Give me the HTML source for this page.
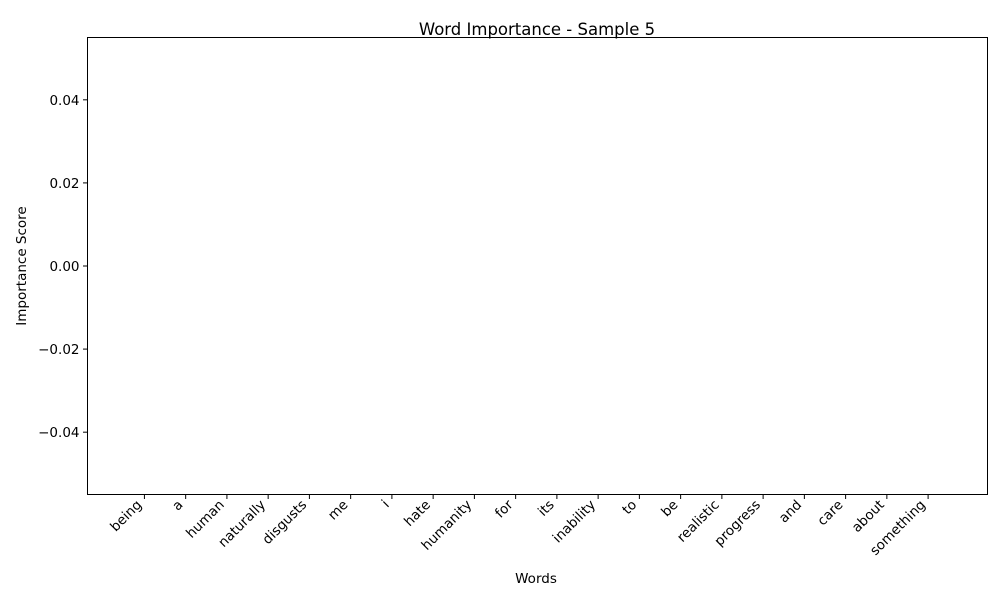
<!DOCTYPE html>
<html><head><meta charset="utf-8">
<style>
html,body{margin:0;padding:0;background:#fff;}
svg{display:block;font-family:"DejaVu Sans","Liberation Sans",sans-serif;}
</style></head>
<body>
<svg id="chart" width="1000" height="600" xmlns="http://www.w3.org/2000/svg">
<rect x="0" y="0" width="1000" height="600" fill="#fff"/>
<text x="537" y="35" text-anchor="middle" font-size="16.5">Word Importance - Sample 5</text>
<text x="536" y="583" text-anchor="middle" font-size="13.5">Words</text>
<text transform="translate(26,266) rotate(-90)" text-anchor="middle" font-size="13.5">Importance Score</text>
<g id="bars"></g>
<g id="xticks"></g>
<g id="yticks"></g>
<rect x="87.5" y="37.5" width="900" height="457" fill="none" stroke="#000" stroke-width="1"/>
</svg>
<script>
const words = ["being","a","human","naturally","disgusts","me","i","hate","humanity","for","its","inability","to","be","realistic","progress","and","care","about","something"];
const values = [0,0,0,0,0,0,0,0,0,0,0,0,0,0,0,0,0,0,0,0];
const yTickValues = [-0.04,-0.02,0.00,0.02,0.04];
const yTickLabels = ["\u22120.04","\u22120.02","0.00","0.02","0.04"];

const NS="http://www.w3.org/2000/svg";
const L=87.5,R=987.5,T=37.5,B=494.5;
const xMin=-1.38,xMax=20.44,yMin=-0.055,yMax=0.055;
function xs(v){return L+(v-xMin)/(xMax-xMin)*(R-L);}
function ys(v){return B-(v-yMin)/(yMax-yMin)*(B-T);}
function mk(t,a){const e=document.createElementNS(NS,t);for(const k in a)e.setAttribute(k,a[k]);return e;}

const bars=document.getElementById('bars');
const bw=0.8;
values.forEach((v,i)=>{
  const x0=xs(i-bw/2),x1=xs(i+bw/2);
  const y0=ys(Math.max(v,0)),y1=ys(Math.min(v,0));
  const r=mk('rect',{x:x0,y:y0,width:x1-x0,height:y1-y0,fill:'#1f77b4'});
  
  
  bars.appendChild(r);
});

const xt=document.getElementById('xticks');
words.forEach((w,i)=>{
  const x=xs(i);
  const ln=mk('line',{x1:x,y1:B,x2:x,y2:B+4.5,stroke:'#000','stroke-width':1});
  
  
  xt.appendChild(ln);
  const tx=mk('text',{transform:`translate(${x-2},${B+11}) rotate(-45)`,'text-anchor':'end','font-size':'13.5'});
  tx.textContent=w;
  
  
  xt.appendChild(tx);
});

const yt=document.getElementById('yticks');
yTickValues.forEach((v,i)=>{
  const y=ys(v);
  const ln=mk('line',{x1:L-4.5,y1:y,x2:L,y2:y,stroke:'#000','stroke-width':1});
  
  
  yt.appendChild(ln);
  const tx=mk('text',{x:L-8,y:y+5,'text-anchor':'end','font-size':'13.5'});
  tx.textContent=yTickLabels[i];
  
  
  yt.appendChild(tx);
});
</script>
</body></html>
